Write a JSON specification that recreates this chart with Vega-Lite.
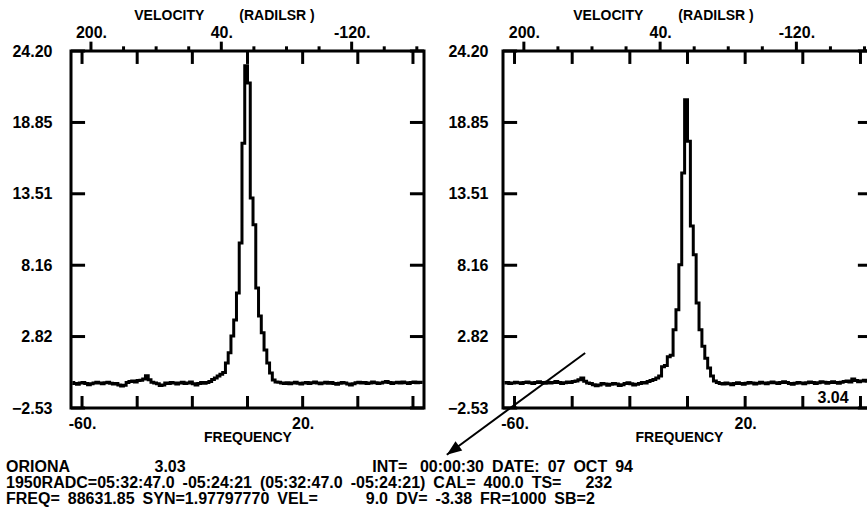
{
  "padding": {"left": 6, "top": 6, "right": 0, "bottom": 4},
  "background": "white",
  "config": {
    "font": "Liberation Sans",
    "view": {"stroke": "black", "strokeWidth": 3},
    "axis": {"ticks": false, "labelFont": "Liberation Sans", "labelFontWeight": "bold", "labelFontSize": 16, "labelColor": "black", "titleFont": "Liberation Sans", "titleFontWeight": "bold", "titleFontSize": 14, "titleColor": "black", "domain": false, "grid": false, "labelFlush": false, "labelOverlap": false, "labelBound": false}
  },
  "datasets": {
    "ft": [{"f": -60}, {"f": -40}, {"f": -20}, {"f": 0}, {"f": 20}, {"f": 40}, {"f": 60}],
    "yt": [{"t": -2.53}, {"t": 2.82}, {"t": 8.16}, {"t": 13.51}, {"t": 18.85}, {"t": 24.2}],
    "vmaj": [{"v": 200}, {"v": 40}, {"v": -120}],
    "vmin": [{"v": 160}, {"v": 120}, {"v": 80}, {"v": 0}, {"v": -40}, {"v": -80}, {"v": -160}, {"v": -200}],
    "tf": [
      {"x0": -60, "x1": -60, "y0": -2.53, "y1": -1.63}, {"x0": -40, "x1": -40, "y0": -2.53, "y1": -1.63}, {"x0": -20, "x1": -20, "y0": -2.53, "y1": -1.63}, {"x0": 0, "x1": 0, "y0": -2.53, "y1": -1.63}, {"x0": 20, "x1": 20, "y0": -2.53, "y1": -1.63}, {"x0": 40, "x1": 40, "y0": -2.53, "y1": -1.63}, {"x0": 60, "x1": 60, "y0": -2.53, "y1": -1.63},
      {"x0": -60, "x1": -60, "y0": 24.2, "y1": 23.23}, {"x0": -40, "x1": -40, "y0": 24.2, "y1": 23.23}, {"x0": -20, "x1": -20, "y0": 24.2, "y1": 23.23}, {"x0": 0, "x1": 0, "y0": 24.2, "y1": 23.23}, {"x0": 20, "x1": 20, "y0": 24.2, "y1": 23.23}, {"x0": 40, "x1": 40, "y0": 24.2, "y1": 23.23}, {"x0": 60, "x1": 60, "y0": 24.2, "y1": 23.23},
      {"x0": -64, "x1": -59.1, "y0": -2.53, "y1": -2.53}, {"x0": -64, "x1": -59.1, "y0": 2.82, "y1": 2.82}, {"x0": -64, "x1": -59.1, "y0": 8.16, "y1": 8.16}, {"x0": -64, "x1": -59.1, "y0": 13.51, "y1": 13.51}, {"x0": -64, "x1": -59.1, "y0": 18.85, "y1": 18.85}, {"x0": -64, "x1": -59.1, "y0": 24.2, "y1": 24.2},
      {"x0": 64, "x1": 59.1, "y0": -2.53, "y1": -2.53}, {"x0": 64, "x1": 59.1, "y0": 2.82, "y1": 2.82}, {"x0": 64, "x1": 59.1, "y0": 8.16, "y1": 8.16}, {"x0": 64, "x1": 59.1, "y0": 13.51, "y1": 13.51}, {"x0": 64, "x1": 59.1, "y0": 18.85, "y1": 18.85}, {"x0": 64, "x1": 59.1, "y0": 24.2, "y1": 24.2}
    ],
    "tv": [
      {"x0": 200, "x1": 200, "y0": 24.2, "y1": 24.9}, {"x0": 40, "x1": 40, "y0": 24.2, "y1": 24.9}, {"x0": -120, "x1": -120, "y0": 24.2, "y1": 24.9},
      {"x0": 160, "x1": 160, "y0": 24.2, "y1": 24.55}, {"x0": 120, "x1": 120, "y0": 24.2, "y1": 24.55}, {"x0": 80, "x1": 80, "y0": 24.2, "y1": 24.55}, {"x0": 0, "x1": 0, "y0": 24.2, "y1": 24.55}, {"x0": -40, "x1": -40, "y0": 24.2, "y1": 24.55}, {"x0": -80, "x1": -80, "y0": 24.2, "y1": 24.55}, {"x0": -160, "x1": -160, "y0": 24.2, "y1": 24.55}, {"x0": -200, "x1": -200, "y0": 24.2, "y1": 24.55}
    ],
    "spec": [
      {"f":-63.5,"a":-0.62,"b":-0.66},{"f":-62.5,"a":-0.70,"b":-0.62},{"f":-61.5,"a":-0.75,"b":-0.70},{"f":-60.5,"a":-0.66,"b":-0.66},
      {"f":-59.5,"a":-0.62,"b":-0.60},{"f":-58.5,"a":-0.70,"b":-0.64},{"f":-57.5,"a":-0.78,"b":-0.70},{"f":-56.5,"a":-0.72,"b":-0.62},
      {"f":-55.5,"a":-0.66,"b":-0.58},{"f":-54.5,"a":-0.60,"b":-0.64},{"f":-53.5,"a":-0.66,"b":-0.70},{"f":-52.5,"a":-0.72,"b":-0.62},
      {"f":-51.5,"a":-0.64,"b":-0.56},{"f":-50.5,"a":-0.60,"b":-0.62},{"f":-49.5,"a":-0.68,"b":-0.68},{"f":-48.5,"a":-0.74,"b":-0.60},
      {"f":-47.5,"a":-0.70,"b":-0.66},{"f":-46.5,"a":-0.80,"b":-0.62},{"f":-45.5,"a":-0.88,"b":-0.55},{"f":-44.5,"a":-0.82,"b":-0.62},
      {"f":-43.5,"a":-0.62,"b":-0.70},{"f":-42.5,"a":-0.55,"b":-0.64},{"f":-41.5,"a":-0.50,"b":-0.58},{"f":-40.5,"a":-0.58,"b":-0.62},
      {"f":-39.5,"a":-0.48,"b":-0.55},{"f":-38.5,"a":-0.45,"b":-0.50},{"f":-37.5,"a":-0.35,"b":-0.42},{"f":-36.5,"a":-0.12,"b":-0.28},
      {"f":-35.5,"a":-0.42,"b":-0.52},{"f":-34.5,"a":-0.60,"b":-0.66},{"f":-33.5,"a":-0.66,"b":-0.70},{"f":-32.5,"a":-0.72,"b":-0.78},
      {"f":-31.5,"a":-0.85,"b":-0.86},{"f":-30.5,"a":-0.80,"b":-0.80},{"f":-29.5,"a":-0.66,"b":-0.70},{"f":-28.5,"a":-0.70,"b":-0.74},
      {"f":-27.5,"a":-0.62,"b":-0.82},{"f":-26.5,"a":-0.66,"b":-0.76},{"f":-25.5,"a":-0.74,"b":-0.70},{"f":-24.5,"a":-0.66,"b":-0.74},
      {"f":-23.5,"a":-0.60,"b":-0.84},{"f":-22.5,"a":-0.70,"b":-0.78},{"f":-21.5,"a":-0.66,"b":-0.70},{"f":-20.5,"a":-0.58,"b":-0.64},
      {"f":-19.5,"a":-0.72,"b":-0.72},{"f":-18.5,"a":-0.80,"b":-0.80},{"f":-17.5,"a":-0.70,"b":-0.76},{"f":-16.5,"a":-0.62,"b":-0.70},
      {"f":-15.5,"a":-0.68,"b":-0.62},{"f":-14.5,"a":-0.62,"b":-0.66},{"f":-13.5,"a":-0.55,"b":-0.55},{"f":-12.5,"a":-0.40,"b":-0.48},
      {"f":-11.5,"a":-0.28,"b":-0.40},{"f":-10.5,"a":-0.13,"b":-0.28},{"f":-9.5,"a":0.00,"b":-0.13},{"f":-8.5,"a":0.12,"b":0.55},
      {"f":-7.5,"a":0.84,"b":0.65},{"f":-6.5,"a":1.60,"b":1.30},{"f":-5.5,"a":2.86,"b":1.42},{"f":-4.5,"a":4.06,"b":3.33},
      {"f":-3.5,"a":6.08,"b":4.83},{"f":-2.5,"a":9.83,"b":8.20},{"f":-1.5,"a":17.30,"b":15.06},{"f":-0.5,"a":23.10,"b":20.55},
      {"f":0.5,"a":21.80,"b":17.44},{"f":1.5,"a":13.20,"b":11.10},{"f":2.5,"a":11.20,"b":8.95},{"f":3.5,"a":6.45,"b":5.33},
      {"f":4.5,"a":4.36,"b":3.33},{"f":5.5,"a":3.10,"b":2.10},{"f":6.5,"a":1.81,"b":1.20},{"f":7.5,"a":0.84,"b":0.46},
      {"f":8.5,"a":0.09,"b":-0.13},{"f":9.5,"a":-0.43,"b":-0.50},{"f":10.5,"a":-0.58,"b":-0.62},{"f":11.5,"a":-0.60,"b":-0.70},
      {"f":12.5,"a":-0.66,"b":-0.74},{"f":13.5,"a":-0.70,"b":-0.66},{"f":14.5,"a":-0.64,"b":-0.72},{"f":15.5,"a":-0.72,"b":-0.78},
      {"f":16.5,"a":-0.66,"b":-0.70},{"f":17.5,"a":-0.60,"b":-0.64},{"f":18.5,"a":-0.68,"b":-0.70},{"f":19.5,"a":-0.74,"b":-0.76},
      {"f":20.5,"a":-0.66,"b":-0.68},{"f":21.5,"a":-0.62,"b":-0.62},{"f":22.5,"a":-0.70,"b":-0.66},{"f":23.5,"a":-0.64,"b":-0.74},
      {"f":24.5,"a":-0.58,"b":-0.68},{"f":25.5,"a":-0.66,"b":-0.60},{"f":26.5,"a":-0.72,"b":-0.66},{"f":27.5,"a":-0.66,"b":-0.72},
      {"f":28.5,"a":-0.60,"b":-0.64},{"f":29.5,"a":-0.68,"b":-0.58},{"f":30.5,"a":-0.62,"b":-0.64},{"f":31.5,"a":-0.70,"b":-0.70},
      {"f":32.5,"a":-0.76,"b":-0.62},{"f":33.5,"a":-0.68,"b":-0.56},{"f":34.5,"a":-0.62,"b":-0.62},{"f":35.5,"a":-0.66,"b":-0.70},
      {"f":36.5,"a":-0.74,"b":-0.76},{"f":37.5,"a":-0.80,"b":-0.68},{"f":38.5,"a":-0.72,"b":-0.62},{"f":39.5,"a":-0.64,"b":-0.66},
      {"f":40.5,"a":-0.60,"b":-0.72},{"f":41.5,"a":-0.66,"b":-0.64},{"f":42.5,"a":-0.62,"b":-0.58},{"f":43.5,"a":-0.70,"b":-0.62},
      {"f":44.5,"a":-0.66,"b":-0.70},{"f":45.5,"a":-0.58,"b":-0.64},{"f":46.5,"a":-0.64,"b":-0.56},{"f":47.5,"a":-0.70,"b":-0.60},
      {"f":48.5,"a":-0.66,"b":-0.68},{"f":49.5,"a":-0.60,"b":-0.62},{"f":50.5,"a":-0.55,"b":-0.56},{"f":51.5,"a":-0.62,"b":-0.62},
      {"f":52.5,"a":-0.70,"b":-0.68},{"f":53.5,"a":-0.64,"b":-0.60},{"f":54.5,"a":-0.60,"b":-0.54},{"f":55.5,"a":-0.66,"b":-0.50},
      {"f":56.5,"a":-0.58,"b":-0.58},{"f":57.5,"a":-0.64,"b":-0.35},{"f":58.5,"a":-0.70,"b":-0.48},{"f":59.5,"a":-0.62,"b":-0.56},
      {"f":60.5,"a":-0.58,"b":-0.50},{"f":61.5,"a":-0.64,"b":-0.46},{"f":62.5,"a":-0.60,"b":-0.52},{"f":63.5,"a":-0.62,"b":-0.48}
    ]
  },
  "title": {
    "text": [
      "ORIONA\u00a0\u00a0\u00a0\u00a0\u00a0\u00a0\u00a0\u00a0\u00a0\u00a0\u00a0\u00a0\u00a0\u00a0\u00a0\u00a0\u00a0\u00a0\u00a03.03\u00a0\u00a0\u00a0\u00a0\u00a0\u00a0\u00a0\u00a0\u00a0\u00a0\u00a0\u00a0\u00a0\u00a0\u00a0\u00a0\u00a0\u00a0\u00a0\u00a0\u00a0\u00a0\u00a0\u00a0\u00a0\u00a0\u00a0\u00a0\u00a0\u00a0\u00a0\u00a0\u00a0\u00a0\u00a0\u00a0\u00a0\u00a0\u00a0\u00a0\u00a0\u00a0INT=\u2002 00:00:30\u2002DATE:\u200207\u2002OCT\u200294",
      "1950RADC=05:32:47.0\u2002-05:24:21\u2002(05:32:47.0\u2002-05:24:21)\u2002CAL=\u2002400.0\u2002TS=\u2002\u2002\u2002232",
      "FREQ=\u200288631.85\u2002SYN=1.97797770\u2002VEL=\u2002\u2002\u2002\u2002\u2002\u20029.0\u2002DV=\u2002-3.38\u2002FR=1000\u2002SB=2"
    ],
    "orient": "bottom", "anchor": "start", "frame": "bounds", "offset": 2, "dx": -4,
    "font": "Liberation Sans", "fontWeight": "bold", "fontSize": 16, "lineHeight": 16, "color": "black"
  },
  "spacing": 79,
  "bounds": "flush",
  "hconcat": [
    {
      "width": 353, "height": 357,
      "layer": [
        {"data": {"name": "spec"},
         "mark": {"type": "line", "interpolate": "step", "color": "black", "strokeWidth": 3, "clip": true},
         "encoding": {
           "x": {"field": "f", "type": "quantitative", "scale": {"domain": [-64, 64], "nice": false, "zero": false},
             "axis": {"orient": "bottom", "values": [-60, 20], "labelExpr": "datum.value + '.'", "labelPadding": 7, "title": "FREQUENCY", "titleY": 29, "titleBaseline": "middle"}},
           "y": {"field": "a", "type": "quantitative", "scale": {"domain": [-2.53, 24.2], "nice": false, "zero": false},
             "axis": {"orient": "left", "values": [-2.53, 2.82, 8.16, 13.51, 18.85, 24.2], "format": ".2f", "labelPadding": 19, "title": null}}
         }},
        {"data": {"name": "ft"},
         "mark": {"type": "rule", "color": "black", "strokeWidth": 3, "clip": false},
         "encoding": {
           "x": {"field": "f", "type": "quantitative", "scale": {"domain": [-64, 64], "nice": false, "zero": false}, "axis": null},
           "x2": {"field": "f"},
           "y": {"datum": -2.53, "type": "quantitative", "scale": {"domain": [-2.53, 24.2], "nice": false, "zero": false}, "axis": null},
           "y2": {"datum": -1.63}
         }},
        {"data": {"name": "ft"},
         "mark": {"type": "rule", "color": "black", "strokeWidth": 3, "clip": false},
         "encoding": {
           "x": {"field": "f", "type": "quantitative", "scale": {"domain": [-64, 64], "nice": false, "zero": false}, "axis": null},
           "x2": {"field": "f"},
           "y": {"datum": 24.2, "type": "quantitative", "scale": {"domain": [-2.53, 24.2], "nice": false, "zero": false}, "axis": null},
           "y2": {"datum": 23.23}
         }},
        {"data": {"name": "yt"},
         "mark": {"type": "rule", "color": "black", "strokeWidth": 3, "clip": false},
         "encoding": {
           "x": {"datum": -64, "type": "quantitative", "scale": {"domain": [-64, 64], "nice": false, "zero": false}, "axis": null},
           "x2": {"datum": -58.9},
           "y": {"field": "t", "type": "quantitative", "scale": {"domain": [-2.53, 24.2], "nice": false, "zero": false}, "axis": null},
           "y2": {"field": "t"}
         }},
        {"data": {"name": "yt"},
         "mark": {"type": "rule", "color": "black", "strokeWidth": 3, "clip": false},
         "encoding": {
           "x": {"datum": 64, "type": "quantitative", "scale": {"domain": [-64, 64], "nice": false, "zero": false}, "axis": null},
           "x2": {"datum": 58.9},
           "y": {"field": "t", "type": "quantitative", "scale": {"domain": [-2.53, 24.2], "nice": false, "zero": false}, "axis": null},
           "y2": {"field": "t"}
         }},
        {"data": {"name": "vmaj"},
         "mark": {"type": "rule", "color": "black", "strokeWidth": 3, "clip": false},
         "encoding": {
           "x": {"field": "v", "type": "quantitative", "scale": {"domain": [224.5, -208.8], "nice": false, "zero": false},
             "axis": {"orient": "top", "values": [200, 40, -120], "labelExpr": "datum.value + '.'", "labelPadding": 11,
               "title": "VELOCITY\u00a0\u00a0\u00a0\u00a0\u00a0\u00a0\u00a0\u00a0\u00a0(RADILSR )", "titleX": 153, "titleY": -36, "titleBaseline": "middle"}},
           "x2": {"field": "v"},
           "y": {"datum": 24.2, "type": "quantitative", "scale": {"domain": [-2.53, 24.2], "nice": false, "zero": false}, "axis": null},
           "y2": {"datum": 24.9}
         }},
        {"data": {"name": "vmin"},
         "mark": {"type": "rule", "color": "black", "strokeWidth": 3, "clip": false},
         "encoding": {
           "x": {"field": "v", "type": "quantitative", "scale": {"domain": [224.5, -208.8], "nice": false, "zero": false}, "axis": null},
           "x2": {"field": "v"},
           "y": {"datum": 24.2, "type": "quantitative", "scale": {"domain": [-2.53, 24.2], "nice": false, "zero": false}, "axis": null},
           "y2": {"datum": 24.55}
         }}
      ],
      "resolve": {"scale": {"x": "independent"}, "axis": {"x": "independent", "y": "independent"}}
    },
    {
      "width": 369, "height": 357,
      "layer": [
        {"data": {"name": "spec"},
         "mark": {"type": "line", "interpolate": "step", "color": "black", "strokeWidth": 3, "clip": true},
         "encoding": {
           "x": {"field": "f", "type": "quantitative", "scale": {"domain": [-64, 64], "nice": false, "zero": false},
             "axis": {"orient": "bottom", "values": [-60, 20], "labelExpr": "datum.value + '.'", "labelPadding": 7, "title": "FREQUENCY", "titleY": 29, "titleX": 176, "titleBaseline": "middle"}},
           "y": {"field": "b", "type": "quantitative", "scale": {"domain": [-2.53, 24.2], "nice": false, "zero": false},
             "axis": {"orient": "left", "values": [-2.53, 2.82, 8.16, 13.51, 18.85, 24.2], "format": ".2f", "labelPadding": 15, "title": null}}
         }},
        {"data": {"name": "tf"},
         "mark": {"type": "rule", "color": "black", "strokeWidth": 3, "clip": false},
         "encoding": {
           "x": {"field": "x0", "type": "quantitative", "scale": {"domain": [-64, 64], "nice": false, "zero": false}, "axis": null},
           "x2": {"field": "x1"},
           "y": {"field": "y0", "type": "quantitative", "scale": {"domain": [-2.53, 24.2], "nice": false, "zero": false}, "axis": null},
           "y2": {"field": "y1"}
         }},
        {"data": {"name": "tv"},
         "mark": {"type": "rule", "color": "black", "strokeWidth": 3, "clip": false},
         "encoding": {
           "x": {"field": "x0", "type": "quantitative", "scale": {"domain": [224.5, -208.8], "nice": false, "zero": false},
             "axis": {"orient": "top", "values": [200, 40, -120], "labelExpr": "datum.value + '.'", "labelPadding": 11,
               "title": "VELOCITY\u00a0\u00a0\u00a0\u00a0\u00a0\u00a0\u00a0\u00a0\u00a0(RADILSR )", "titleX": 160, "titleY": -36, "titleBaseline": "middle"}},
           "x2": {"field": "x1"},
           "y": {"field": "y0", "type": "quantitative", "scale": {"domain": [-2.53, 24.2], "nice": false, "zero": false}, "axis": null},
           "y2": {"field": "y1"}
         }},
        {"data": {"values": [{"f": 50.5, "v": -1.78, "t": "3.04"}]},
         "mark": {"type": "text", "font": "Liberation Sans", "fontWeight": "bold", "fontSize": 16, "color": "black"},
         "encoding": {
           "x": {"field": "f", "type": "quantitative", "scale": {"domain": [-64, 64], "nice": false, "zero": false}, "axis": null},
           "y": {"field": "v", "type": "quantitative", "scale": {"domain": [-2.53, 24.2], "nice": false, "zero": false}, "axis": null},
           "text": {"field": "t"}
         }},
        {"data": {"values": [{"f1": -35.5, "v1": 1.59, "f2": -83.5, "v2": -6.03}]},
         "mark": {"type": "rule", "color": "black", "strokeWidth": 2, "clip": false},
         "encoding": {
           "x": {"field": "f1", "type": "quantitative", "scale": {"domain": [-64, 64], "nice": false, "zero": false}, "axis": null},
           "x2": {"field": "f2"},
           "y": {"field": "v1", "type": "quantitative", "scale": {"domain": [-2.53, 24.2], "nice": false, "zero": false}, "axis": null},
           "y2": {"field": "v2"}
         }},
        {"data": {"values": [{"f2": -83.5, "v2": -6.03}]},
         "mark": {"type": "point", "shape": "M0,0L1.031,-0.286L0.581,-0.898Z", "size": 900, "filled": true, "color": "black", "opacity": 1, "clip": false},
         "encoding": {
           "x": {"field": "f2", "type": "quantitative", "scale": {"domain": [-64, 64], "nice": false, "zero": false}, "axis": null},
           "y": {"field": "v2", "type": "quantitative", "scale": {"domain": [-2.53, 24.2], "nice": false, "zero": false}, "axis": null}
         }}
      ],
      "resolve": {"scale": {"x": "independent"}, "axis": {"x": "independent", "y": "independent"}}
    }
  ]
}
